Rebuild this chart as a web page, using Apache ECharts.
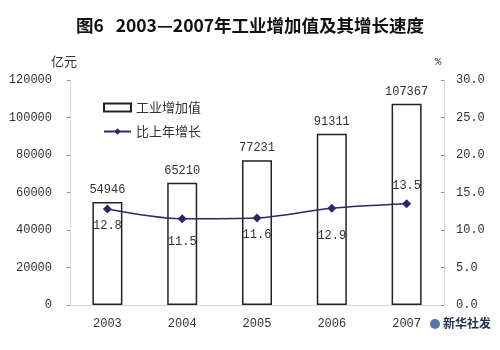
<!DOCTYPE html>
<html><head><meta charset="utf-8">
<script src="https://cdn.jsdelivr.net/npm/echarts@6/dist/echarts.min.js"></script>
<style>html,body{margin:0;padding:0;background:#fff}#c{width:500px;height:350px}</style>
</head><body><div id="c"></div>
<script>
var categories = ['2003', '2004', '2005', '2006', '2007'];
var valueAdded = [54946, 65210, 77231, 91311, 107367];
var growthRate = [12.8, 11.5, 11.6, 12.9, 13.5];
var leftTicks = [0, 20000, 40000, 60000, 80000, 100000, 120000];
var rightTicks = [0, 5, 10, 15, 20, 25, 30];

var labelPlace = [['bottom', 6], ['bottom', 13], ['bottom', 6], ['bottom', 17], ['top', 7]];

var numFont = '"Liberation Mono", "DejaVu Sans Mono", monospace';
var cjkFont = '"Noto Sans CJK SC", sans-serif';

var chart = echarts.init(document.getElementById('c'));
chart.setOption({
  backgroundColor: '#fff',
  animation: false,
  title: {
    text: '图6   2003—2007年工业增加值及其增长速度',
    left: 'center', top: 12,
    textStyle: { fontFamily: cjkFont, fontSize: 17.5, fontWeight: 'bold', color: '#111' }
  },
  legend: {
    orient: 'vertical', left: 98, top: 96, itemWidth: 27, itemHeight: 8, itemGap: 11,
    textStyle: { fontFamily: cjkFont, fontSize: 13, color: '#333' },
    data: [{ name: '工业增加值', icon: 'rect' }, { name: '比上年增长' }]
  },
  grid: { left: 70, right: 56, top: 80, bottom: 45 },
  xAxis: {
    type: 'category', data: categories, boundaryGap: true,
    axisLine: { lineStyle: { color: '#d8d8d8', width: 1 } },
    axisTick: { inside: true, length: 4, lineStyle: { color: '#999' } },
    axisLabel: { margin: 13, fontFamily: numFont, fontSize: 12, color: '#333' }
  },
  yAxis: [{
    type: 'value', min: leftTicks[0], max: leftTicks[leftTicks.length - 1], interval: leftTicks[1] - leftTicks[0],
    name: '亿元', nameLocation: 'end', nameGap: 12,
    nameTextStyle: { fontFamily: cjkFont, fontSize: 13, color: '#333', padding: [0, 12, 0, 0] },
    axisLine: { show: true, lineStyle: { color: '#d8d8d8' } },
    axisTick: { show: true, length: 3, lineStyle: { color: '#888' } },
    axisLabel: { margin: 18, fontFamily: numFont, fontSize: 12, color: '#333',
      formatter: function (v) { return String(v); } },
    splitLine: { show: false }
  }, {
    type: 'value', min: rightTicks[0], max: rightTicks[rightTicks.length - 1], interval: rightTicks[1] - rightTicks[0],
    name: '%', nameLocation: 'end', nameGap: 12,
    nameTextStyle: { fontFamily: numFont, fontSize: 11, color: '#333', padding: [0, 12, 0, 0] },
    axisLine: { show: true, lineStyle: { color: '#d8d8d8' } },
    axisTick: { show: true, inside: true, length: 3, lineStyle: { color: '#888' } },
    axisLabel: { margin: 12, fontFamily: numFont, fontSize: 12, color: '#333',
      formatter: function (v) { return v.toFixed(1); } },
    splitLine: { show: false }
  }],
  series: [{
    name: '工业增加值', type: 'bar', data: valueAdded, barWidth: 30,
    itemStyle: { color: '#fff', borderColor: '#222', borderWidth: 1.5 },
    label: { show: true, position: 'top', distance: 6, fontFamily: numFont, fontSize: 12, color: '#333' }
  }, {
    name: '比上年增长', type: 'line', yAxisIndex: 1, smooth: 0.3,
    data: growthRate.map(function (v, i) {
      return { value: v, label: { position: labelPlace[i][0], distance: labelPlace[i][1] } };
    }),
    symbol: 'diamond', symbolSize: 9,
    lineStyle: { color: '#2a2868', width: 1.5 },
    itemStyle: { color: '#2a2868' },
    label: { show: true, fontFamily: numFont, fontSize: 12, color: '#333',
      formatter: function (p) { return p.value.toFixed(1); } }
  }],
  graphic: [{
    type: 'circle', shape: { cx: 435, cy: 324, r: 5 }, style: { fill: '#5577aa' }
  }, {
    type: 'text', left: 443, top: 317,
    style: { text: '新华社发', fontFamily: cjkFont, fontSize: 12, fontWeight: 'bold', fill: '#223355' }
  }]
});
</script></body></html>
